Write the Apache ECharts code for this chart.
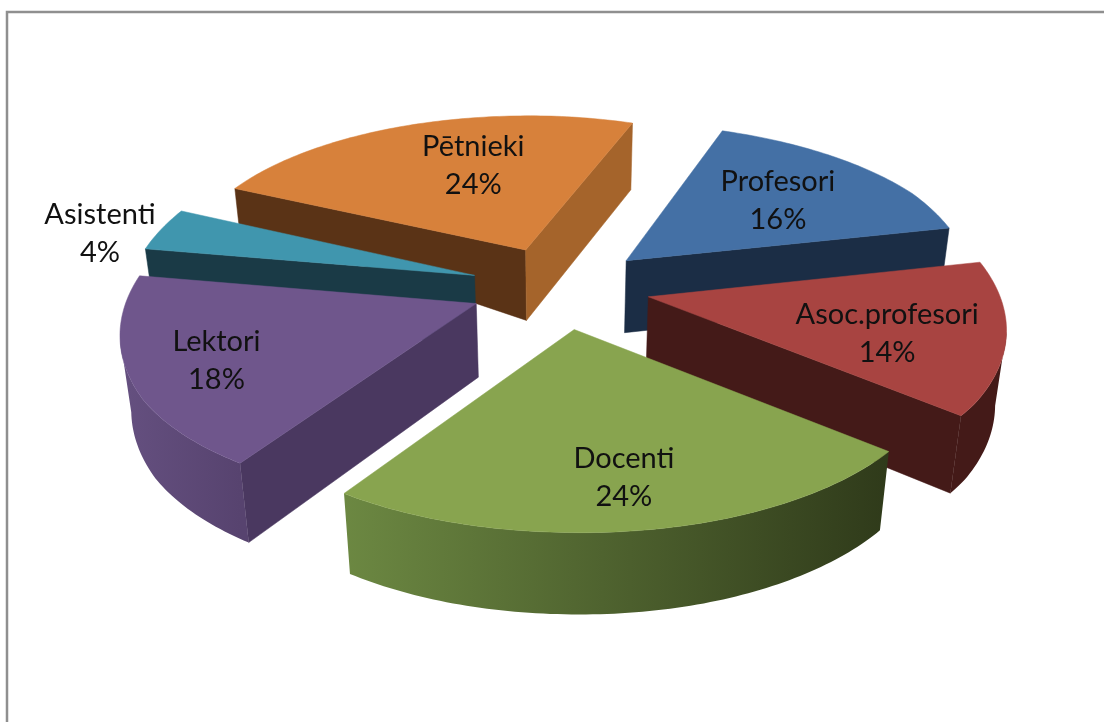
<!DOCTYPE html>
<html>
<head>
<meta charset="utf-8">
<style>html,body{margin:0;padding:0;background:#fff}#c{width:1104px;height:722px}</style>
<script src="https://cdn.jsdelivr.net/npm/echarts@6/dist/echarts.min.js"></script>
</head>
<body>
<div id="c"></div>
<script>
const categories = ['Profesori','Asoc.profesori','Docenti','Lektori','Asistenti','Pētnieki'];
const values = [16,14,24,18,4,24];

// styling, kept apart from data
const topColors  = ['#4470a5','#a84441','#88a44f','#6f568c','#4096ae','#d7813b'];
const startFace  = ['#1b2d45','#441a18','#343f1c','#4a3860','#1a3a46','#5a3316'];
const endFace    = ['#1b2d45','#441a18','#343f1c','#4a3860','#1a3a46','#a5642b'];
const sideFrom   = ['#1b2d45','#441a18','#6c8842','#655080','#1a3a46','#5a3316'];
const sideTo     = ['#1b2d45','#441a18','#2f3a1a','#57436f','#1a3a46','#5a3316'];
const paintOrder = [2,4,6,5,3,1];           // z rank of each slice, back to front
const labelRadius= [0.62,0.68,0.60,0.70,1.26,0.70];
const labelShift = [[4,3],[-2,8],[12,32],[-21,6],[16,16],[31,8]];

const rotation = 20, explode = 0.24;
const cam = {cx:560, cy:287, rx:350, ry:173, k:0.14, depth:73, pinch:57, xExplode:1.07,
  backFrom:-0.6, backFlat:0.1, frontFrom:0.6, frontFlat:0.1, converge:0.025, leftFrom:-0.5, leftPull:0.015, tilt:0.006};

const total = values.reduce((a,b)=>a+b,0);
const rad = d => d*Math.PI/180;
function project(u,v,z){
  const s = 1/(1-cam.k*v);
  const h = z ? Math.pow(s,0.6)*(cam.depth - cam.pinch*Math.max(0,-u)*Math.max(0,-v)) : 0;
  let vy = v;
  if(v<cam.backFrom) vy = v+cam.backFlat*(cam.backFrom-v);
  if(v>cam.frontFrom) vy = v-cam.frontFlat*(v-cam.frontFrom);
  const ux = u<cam.leftFrom ? u+cam.leftPull*(cam.leftFrom-u) : u;
  const dx = s*ux*cam.rx;
  return [cam.cx + dx*(1-cam.converge*h/cam.depth), cam.cy + s*vy*cam.ry + h + Math.max(0,dx)*cam.tilt];
}
function renderItem(params, api){
  const i = params.dataIndex;
  let before = 0;
  for(let j=0;j<i;j++) before += values[j];
  const a0 = rotation + before/total*360;
  const a1 = a0 + api.value(1)/total*360;
  const mid = rad((a0+a1)/2);
  const ex = Math.sin(mid)*explode*cam.xExplode, ey = -Math.cos(mid)*explode;
  const wp = (deg,r) => [ex+r*Math.sin(rad(deg)), ey-r*Math.cos(rad(deg))];
  const steps = Math.max(6,Math.ceil(a1-a0));
  const arc = [];
  for(let n=0;n<=steps;n++) arc.push(a0+(a1-a0)*n/steps);
  const P = (w,z)=>project(w[0],w[1],z);
  const apex = [ex,ey];
  const z = paintOrder[i]*10;
  const children = [];
  const area = pts => {let t=0;pts.forEach((p,n)=>{const q=pts[(n+1)%pts.length];t+=p[0]*q[1]-q[0]*p[1];});return t;};
  const startW = wp(a0,1), endW = wp(a1,1);
  // radial faces (with back-face culling by winding)
  const sf = [P(startW,0),P(apex,0),P(apex,1),P(startW,1)];
  if(area(sf)>0) children.push({type:'polygon',shape:{points:sf},style:{fill:startFace[i],stroke:startFace[i],lineWidth:0.5},z2:z+1});
  const ef = [P(apex,0),P(endW,0),P(endW,1),P(apex,1)];
  if(area(ef)>0) children.push({type:'polygon',shape:{points:ef},style:{fill:endFace[i],stroke:endFace[i],lineWidth:0.5},z2:z+1});
  // outer rim: only the front-facing stretch
  const tops = arc.map(d=>P(wp(d,1),0));
  let vis = [];
  for(let n=0;n<arc.length;n++){
    const prev = tops[Math.max(0,n-1)], next = tops[Math.min(arc.length-1,n+1)];
    if(next[0]-prev[0]<0) vis.push(arc[n]);
  }
  if(vis.length>1){
    const upper = vis.map(d=>P(wp(d,1),0));
    const lower = vis.map(d=>P(wp(d,1),1)).reverse();
    const xs = upper.map(p=>p[0]);
    const xMin = Math.min(...xs), xMax = Math.max(...xs);
    children.push({type:'polygon',shape:{points:upper.concat(lower)},
      style:{fill:new echarts.graphic.LinearGradient(xMin,0,xMax,0,[{offset:0,color:sideFrom[i]},{offset:1,color:sideTo[i]}],true)},z2:z+2});
  }
  // top
  children.push({type:'polygon',shape:{points:[P(apex,0)].concat(tops)},style:{fill:topColors[i],stroke:topColors[i],lineWidth:0.5},z2:z+3});
  // label
  const lw = [ex+labelRadius[i]*Math.sin(mid), ey-labelRadius[i]*Math.cos(mid)];
  const lp = P(lw,0);
  children.push({type:'text',x:lp[0]+labelShift[i][0],y:lp[1]+labelShift[i][1],z2:1000,style:{
    text:categories[i]+'\n'+Math.round(api.value(1)/total*100)+'%',
    fill:'#111',fontFamily:'Lato',fontSize:29,lineHeight:38,align:'center',verticalAlign:'middle'}});
  return {type:'group',children};
}
const chart = echarts.init(document.getElementById('c'),null,{renderer:'canvas'});
chart.setOption({
  animation:false,
  backgroundColor:'#fff',
  graphic:[{type:'polyline',shape:{points:[[7,722],[7,12],[1104,12]]},style:{stroke:'#8f8f8f',lineWidth:2.5,fill:null},silent:true}],
  series:[{type:'custom',coordinateSystem:'none',silent:true,renderItem,
    encode:{value:1,itemName:0},
    data:categories.map((c,i)=>[i,values[i]])}]
});
</script>
</body>
</html>
